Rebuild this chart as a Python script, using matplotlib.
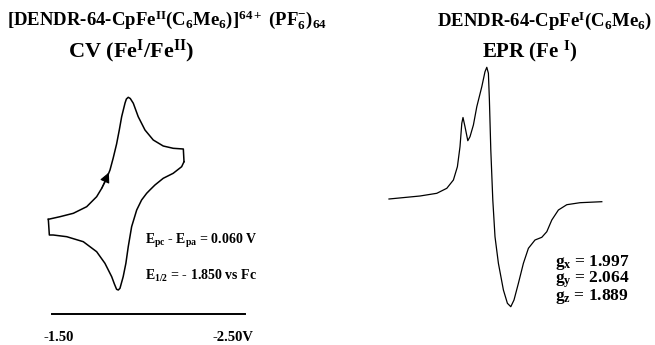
import matplotlib.pyplot as plt
from matplotlib.transforms import ScaledTranslation

plt.rcParams['font.family'] = 'Liberation Serif'
plt.rcParams['font.weight'] = 'bold'
plt.rcParams['mathtext.fontset'] = 'custom'
plt.rcParams['mathtext.rm'] = 'Liberation Serif:bold'
plt.rcParams['mathtext.it'] = 'Liberation Serif:bold'
plt.rcParams['mathtext.bf'] = 'Liberation Serif:bold'

# CV (potential in V, current in arbitrary units)
cv_fwd_E = [-1.437, -1.506, -1.585, -1.664, -1.723, -1.753, -1.778, -1.802, -1.821,
            -1.841, -1.857, -1.871, -1.891, -1.899, -1.910, -1.922, -1.940,
            -1.969, -2.009, -2.058, -2.117, -2.176, -2.236, -2.240]
cv_fwd_I = [1.57, 1.83, 2.17, 2.83, 3.83, 4.67, 5.5, 6.5, 7.7,
            9.1, 10.5, 11.83, 13.2, 13.6, 13.77, 13.65, 13.17,
            11.83, 10.5, 9.5, 8.9, 8.67, 8.6, 7.33]
cv_rev_E = [-2.240, -2.226, -2.176, -2.117, -2.068, -2.038, -2.019, -1.989, -1.960,
            -1.930, -1.910, -1.896, -1.880, -1.861, -1.851, -1.841, -1.828, -1.812,
            -1.772, -1.723, -1.644, -1.546, -1.466, -1.443, -1.437]
cv_rev_I = [7.33, 6.83, 6.17, 5.67, 5.0, 4.5, 4.17, 3.5, 2.5,
            0.83, -1.17, -2.83, -4.17, -5.33, -5.5, -5.43, -4.9, -4.17,
            -2.83, -1.67, -0.67, -0.17, 0.0, 0.0, 1.57]
cv_ticks = [-1.50, -2.50]
cv_ticklabels = ['-1.50', '-2.50V']

# EPR (field in mT, derivative signal in arbitrary units)
epr_B = [300, 315.5, 323.9, 328.9, 332.2, 334.2, 335.5, 336.4, 337.0, 338.0,
         339.4, 340.5, 342.2, 343.9, 346.4, 348.0, 348.9, 349.7, 350.2, 350.9,
         351.9, 353.0, 354.7, 357.2, 359.2, 360.9, 362.5, 364.7, 367.2, 369.7,
         373.0, 376.4, 378.9, 381.4, 384.7, 388.9, 395.5, 406.4]
epr_S = [0.1, 0.4, 0.67, 1.17, 2.0, 3.33, 5.33, 7.67, 8.25, 7.33,
         5.93, 6.33, 7.5, 9.33, 11.33, 12.83, 13.27, 12.67, 10.0, 5.0,
         0.0, -3.67, -6.33, -9.0, -10.33, -10.67, -10.0, -8.33, -6.33, -4.83,
         -4.0, -3.73, -3.17, -2.0, -1.0, -0.47, -0.27, -0.17]
g_labels = [r'g$_{x}$ = 1.997', r'g$_{y}$ = 2.064', r'g$_{z}$ = 1.889']

W, H = 655, 345
fig = plt.figure(figsize=(W / 100, H / 100), dpi=100)


def px(x, y):
    return x / W, 1 - y / H


# --- CV panel ---
ax1 = fig.add_axes([0, 0, 330 / W, 1])
ax1.plot(cv_fwd_E, cv_fwd_I, color='black', lw=1.1)
ax1.plot(cv_rev_E, cv_rev_I, color='black', lw=1.1)
ax1.annotate('', xy=(cv_fwd_E[7], cv_fwd_I[7]), xytext=(cv_fwd_E[5], cv_fwd_I[5]),
             arrowprops=dict(arrowstyle='-|>', color='black', lw=0.8,
                             mutation_scale=15, shrinkA=0, shrinkB=2))
ax1.set_xlim(-1.151, -3.104)
ax1.set_ylim(-11.0, 23.5)
ax1.patch.set_visible(False)
for s in ['top', 'left', 'right']:
    ax1.spines[s].set_visible(False)
ax1.spines['bottom'].set_position(('data', -7.9))
ax1.spines['bottom'].set_bounds(-1.459, -2.601)
ax1.spines['bottom'].set_linewidth(1.4)
ax1.set_yticks([])
ax1.set_xticks(cv_ticks)
ax1.set_xticklabels(cv_ticklabels, fontsize=10.5, fontweight='bold')
ax1.tick_params(axis='x', length=0, pad=12)
lbl = ax1.get_xticklabels()[1]
lbl.set_transform(lbl.get_transform() + ScaledTranslation(0.05, 0, fig.dpi_scale_trans))

# --- EPR panel ---
ax2 = fig.add_axes([330 / W, 0, 325 / W, 1])
ax2.plot(epr_B, epr_S, color='black', lw=0.9)
ax2.set_xlim(270.5, 433)
ax2.set_ylim(-14.5, 20)
ax2.axis('off')

# --- texts ---
fig.text(*px(7, 26), r'[DENDR-64-CpFe$^{II}$(C$_6$Me$_6$)]$^{64+}$ (PF$_6^{-}$)$_{64}$',
         fontsize=13.5, ha='left', va='baseline')
fig.text(*px(437, 26), r'DENDR-64-CpFe$^{I}$(C$_6$Me$_6$)',
         fontsize=13.5, ha='left', va='baseline')
fig.text(*px(68, 57), r'CV (Fe$^{I}$/Fe$^{II}$)', fontsize=16, ha='left', va='baseline')
fig.text(*px(482, 57), r'EPR (Fe $^{I}$)', fontsize=15, ha='left', va='baseline')

fig.text(*px(145, 244), r'E$_{pc}$ - E$_{pa}$ = 0.060 V', fontsize=10, ha='left', va='baseline')
fig.text(*px(145, 280), r'E$_{1/2}$ = - 1.850 vs Fc', fontsize=10, ha='left', va='baseline')

fig.text(*px(555, 300), '\n'.join(g_labels), fontsize=12.5, ha='left', va='baseline',
         linespacing=0.8)

fig.savefig('out.png', dpi=100)
